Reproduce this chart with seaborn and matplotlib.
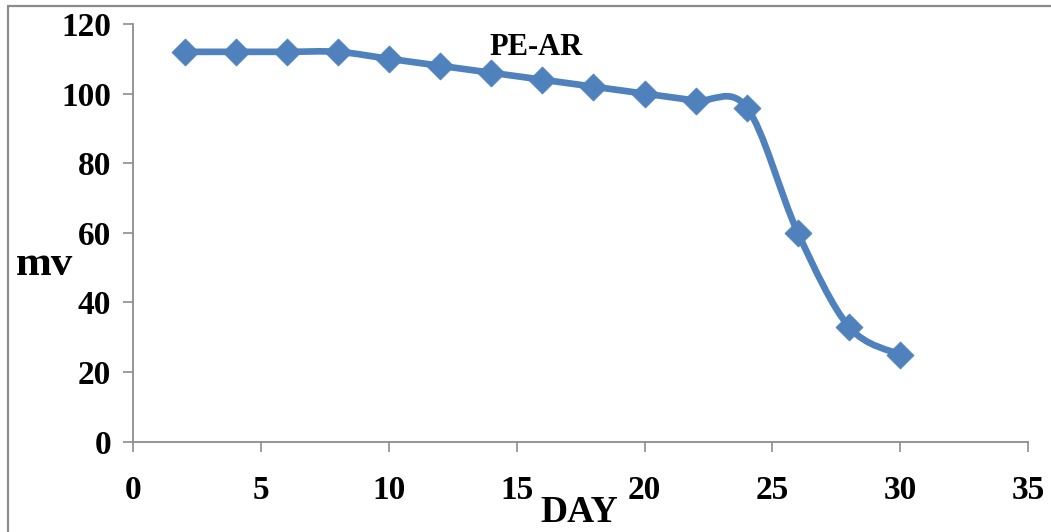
import numpy as np
import matplotlib
matplotlib.use("Agg")
import matplotlib.pyplot as plt
from matplotlib.path import Path
from matplotlib.patches import PathPatch
from matplotlib.lines import Line2D
import seaborn as sns
import pandas as pd

# Measurements: potential (mV) by day
days = [2, 4, 6, 8, 10, 12, 14, 16, 18, 20, 22, 24, 26, 28, 30]
mv = [112, 112, 112, 112, 110, 108, 106, 104, 102, 100, 98, 96, 60, 33, 25]
x_ticks = [0, 5, 10, 15, 20, 25, 30, 35]
y_ticks = [0, 20, 40, 60, 80, 100, 120]
series_name = "PE-AR"

sns.set_theme(style="white")
plt.rcParams["font.family"] = ["Liberation Serif", "DejaVu Serif"]
plt.rcParams["font.weight"] = "bold"
plt.rcParams["text.color"] = "black"
plt.rcParams["axes.labelcolor"] = "black"

BLUE = "#4F81BD"
GREY = "#8C8C8C"

df = pd.DataFrame({"DAY": days, "mv": mv})

fig = plt.figure(figsize=(10.51, 5.32), dpi=100)
ax = fig.add_axes([0.127, 0.1697, 0.851, 0.7852])

# smoothed connecting curve: cubic Bezier segments with Catmull-Rom style control points
pts = np.column_stack([df["DAY"].to_numpy(float), df["mv"].to_numpy(float)])
n = len(pts)
verts = [tuple(pts[0])]
codes = [Path.MOVETO]
for i in range(n - 1):
    p0 = pts[i - 1] if i > 0 else pts[i]
    p1 = pts[i]
    p2 = pts[i + 1]
    p3 = pts[i + 2] if i + 2 < n else pts[i + 1]
    c1 = p1 + (p2 - p0) / 6.0
    c2 = p2 - (p3 - p1) / 6.0
    verts += [tuple(c1), tuple(c2), tuple(p2)]
    codes += [Path.CURVE4, Path.CURVE4, Path.CURVE4]
curve = PathPatch(Path(verts, codes), facecolor="none", edgecolor=BLUE,
                  linewidth=4.8, capstyle="round", joinstyle="round", zorder=2)
ax.add_patch(curve)

sns.scatterplot(data=df, x="DAY", y="mv", marker="D", s=190, color=BLUE,
                edgecolor=BLUE, linewidth=0.5, ax=ax, zorder=3, legend=False)

ax.set_xlim(0, 35)
ax.set_ylim(0, 120)
ax.set_xticks(x_ticks)
ax.set_yticks(y_ticks)
ax.set_xticklabels([str(t) for t in x_ticks], fontsize=24, fontweight="bold")
ax.set_yticklabels([str(t) for t in y_ticks], fontsize=24, fontweight="bold")

for side in ["top", "right"]:
    ax.spines[side].set_visible(False)
for side in ["left", "bottom"]:
    ax.spines[side].set_color(GREY)
    ax.spines[side].set_linewidth(1.3)

ax.tick_params(axis="both", direction="out", length=7, width=1.2, color=GREY,
               labelcolor="black")
ax.tick_params(axis="x", pad=17, bottom=True)
ax.tick_params(axis="y", pad=9, left=True)

ax.set_xlabel("DAY", fontsize=27, fontweight="bold", va="baseline", ha="center")
ax.xaxis.set_label_coords(0.498, -0.192)
ax.set_ylabel("mv", fontsize=31, fontweight="bold", rotation=0,
              va="baseline", ha="center")
ax.yaxis.set_label_coords(-0.100, 0.399)

ax.text(0.45, 0.926, series_name, transform=ax.transAxes, fontsize=22,
        fontweight="bold", ha="center", va="baseline")

# outer chart frame (left and top edges visible)
fx = 7.5 / 1051
fy = 1 - 5.5 / 532
fig.add_artist(Line2D([fx, fx], [0, fy], transform=fig.transFigure,
                      color=GREY, linewidth=1.6))
fig.add_artist(Line2D([fx, 1], [fy, fy], transform=fig.transFigure,
                      color=GREY, linewidth=1.6))

fig.savefig("out.png", dpi=100, facecolor="white")
